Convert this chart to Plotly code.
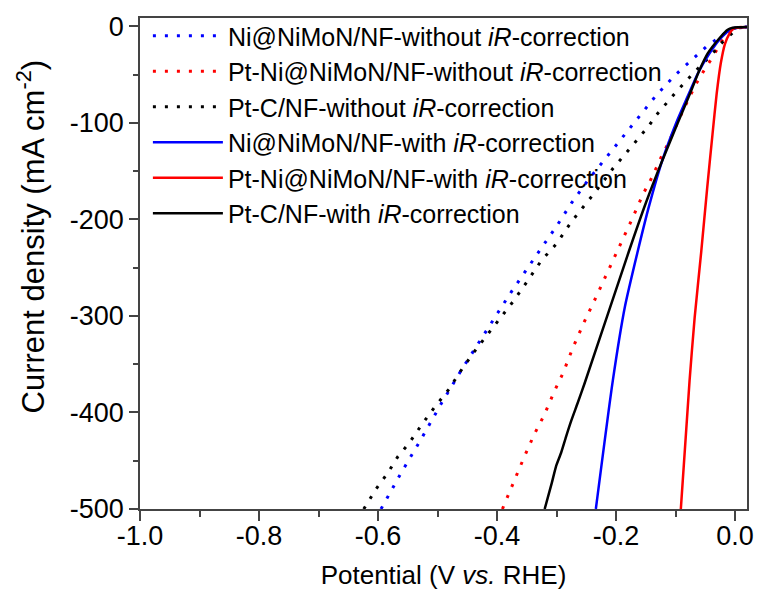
import plotly.graph_objects as go

# ---- data (Potential V vs RHE, current density mA cm^-2) ----
ni_wo_v = [-0.595, -0.5616, -0.528, -0.493, -0.459, -0.423, -0.399, -0.376, -0.351, -0.326, -0.301, -0.275,
           -0.248, -0.219, -0.190, -0.1734, -0.132, -0.101, -0.068, -0.049, -0.0275, -0.0097, 0.000, 0.007, 0.02]
ni_wo_j = [-500, -463, -428, -390, -355, -321, -297, -275, -252, -230, -208, -183,
           -160, -138, -115.5, -103.5, -71, -50.5, -31.6, -21.4, -11.8, -3.6, -1.5, -0.8, -0.5]

pt_wo_v = [-0.391, -0.373, -0.355, -0.337, -0.321, -0.303, -0.289, -0.273, -0.2537, -0.2326, -0.213, -0.2038,
           -0.1927, -0.173, -0.1547, -0.1426, -0.1233, -0.112, -0.0874, -0.066, -0.0487, -0.0374, -0.0236,
           -0.010, 0.0, 0.02]
pt_wo_j = [-500, -473, -447, -422, -403, -377, -359, -333.5, -306.5, -279, -253, -239.4,
           -225, -199.4, -173.7, -160, -134.3, -120.6, -87, -60, -41.9, -31.6, -16.2,
           -5, -1.5, -0.5]

ptc_wo_v = [-0.624, -0.603, -0.584, -0.567, -0.548, -0.527, -0.505, -0.481, -0.459, -0.437, -0.412, -0.398,
            -0.373, -0.348, -0.326, -0.300, -0.2745, -0.233, -0.205, -0.176, -0.1456, -0.132, -0.101,
            -0.0707, -0.043, -0.021, -0.004, 0.005, 0.02]
ptc_wo_j = [-500, -479, -463, -446, -432, -413, -394.5, -376, -355, -336, -316, -305,
            -285, -263, -243, -225, -202, -170, -147, -126, -103.5, -91.6, -69.3,
            -48.8, -31.6, -16.2, -6, -1.5, -0.5]

ni_w_v = [-0.234, -0.2055, -0.185, -0.164, -0.145, -0.123, -0.099, -0.080, -0.062, -0.043, -0.026,
          -0.010, 0.004, 0.02]
ni_w_j = [-500, -367, -290, -234, -187, -140, -100, -73, -48, -28, -13.5,
          -4.5, -1.5, -0.5]

pt_w_v = [-0.0912, -0.0765, -0.068, -0.057, -0.047, -0.038, -0.031, -0.024, -0.017, -0.0097, -0.004,
          0.001, 0.02]
pt_w_j = [-500, -367, -302, -234, -168, -112, -70, -38, -18, -7.7, -3,
          -1.5, -0.5]

ptc_w_v = [-0.320, -0.308, -0.301, -0.2925, -0.284, -0.275, -0.265, -0.253, -0.179, -0.150, -0.123,
           -0.097, -0.078, -0.0596, -0.046, -0.026, -0.0125, -0.004, 0.004, 0.02]
ptc_w_j = [-500, -473, -456, -442, -425, -408, -391, -370, -234, -183, -140,
           -101, -73, -45, -28, -12, -3.5, -1.4, -0.8, -0.5]

x_tickvals = [-1.0, -0.8, -0.6, -0.4, -0.2, 0.0]
x_ticktext = ["-1.0", "-0.8", "-0.6", "-0.4", "-0.2", "0.0"]
y_tickvals = [0, -100, -200, -300, -400, -500]
y_ticktext = ["0", "-100", "-200", "-300", "-400", "-500"]

names = [
    "Ni@NiMoN/NF-without <i>iR</i>-correction",
    "Pt-Ni@NiMoN/NF-without <i>iR</i>-correction",
    "Pt-C/NF-without <i>iR</i>-correction",
    "Ni@NiMoN/NF-with <i>iR</i>-correction",
    "Pt-Ni@NiMoN/NF-with <i>iR</i>-correction",
    "Pt-C/NF-with <i>iR</i>-correction",
]
y_title = "Current density (mA cm<sup>-2</sup>)"
x_title = "Potential (V <i>vs.</i> RHE)"

FONT = "Liberation Sans, Arial, sans-serif"
BLUE, RED, BLACK = "#0000FF", "#FF0000", "#000000"
AX = "#444444"
DOT = "3px,9px"
X_RANGE = [-1.0, 0.02]
Y_RANGE = [-500, 8.7]

fig = go.Figure()
series = [
    (ni_wo_v, ni_wo_j, BLUE, DOT, "linear"),
    (pt_wo_v, pt_wo_j, RED, DOT, "linear"),
    (ptc_wo_v, ptc_wo_j, BLACK, DOT, "linear"),
    (ni_w_v, ni_w_j, BLUE, "solid", "spline"),
    (pt_w_v, pt_w_j, RED, "solid", "spline"),
    (ptc_w_v, ptc_w_j, BLACK, "solid", "spline"),
]
for i, (xv, yv, col, dash, shape) in enumerate(series):
    fig.add_trace(go.Scatter(
        x=xv, y=yv, mode="lines", name=names[i],
        line=dict(color=col, width=3 if dash != "solid" else 2.5, dash=dash, shape=shape,
                  smoothing=0.6 if shape == "spline" else None),
    ))

fig.update_layout(
    width=766, height=601,
    margin=dict(l=140, r=12, t=14, b=92),
    paper_bgcolor="white", plot_bgcolor="white",
    font=dict(family=FONT, color="#000000"),
    xaxis=dict(range=X_RANGE, tickmode="array", tickvals=x_tickvals, ticktext=x_ticktext,
               showline=True, mirror=True, linecolor=AX, linewidth=1.5,
               ticks="outside", ticklen=10, tickwidth=2, tickcolor=AX, ticklabelstandoff=-8,
               minor=dict(tickmode="linear", dtick=0.1, tick0=0, ticks="outside", ticklen=6,
                          tickwidth=2, tickcolor=AX, showgrid=False),
               showgrid=False, zeroline=False,
               tickfont=dict(family=FONT, size=27, color="#000000"),
               title=dict(text=x_title, font=dict(family=FONT, size=26), standoff=16)),
    yaxis=dict(range=Y_RANGE, tickvals=y_tickvals, ticktext=y_ticktext,
               showline=True, mirror=True, linecolor=AX, linewidth=1.5,
               ticks="outside", ticklen=9, tickwidth=1.5, tickcolor=AX,
               minor=dict(dtick=50, tick0=0, ticks="outside", ticklen=5, tickwidth=1.5, tickcolor=AX),
               showgrid=False, zeroline=False,
               tickfont=dict(family=FONT, size=27, color="#000000")),
    legend=dict(x=0.013, y=1.01, xanchor="left", yanchor="top", bgcolor="rgba(0,0,0,0)",
                font=dict(family=FONT, size=25), itemwidth=70),
    showlegend=True,
    annotations=[dict(text=y_title, textangle=-90, xref="paper", yref="paper",
                      x=-0.178, y=0.555, xanchor="center", yanchor="middle", showarrow=False,
                      font=dict(family=FONT, size=31, color="#000000"))],
)

fig.write_html("out.html")
